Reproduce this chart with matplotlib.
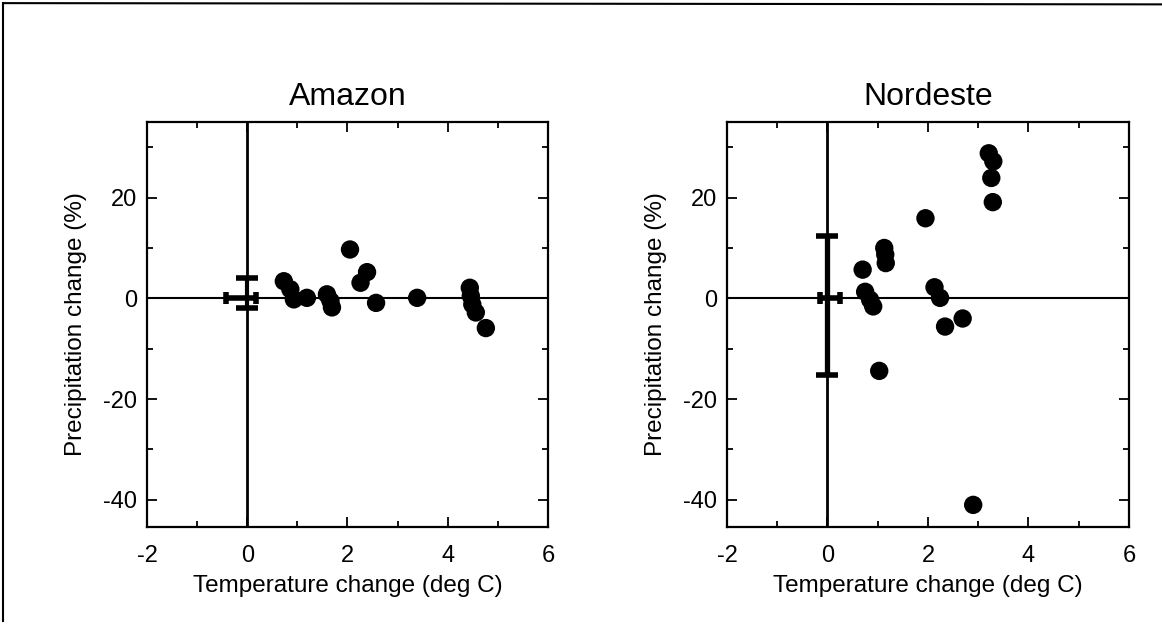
import matplotlib
matplotlib.use("Agg")
import matplotlib.pyplot as plt
from matplotlib.ticker import MultipleLocator
from matplotlib.lines import Line2D

plt.rcParams["font.family"] = ["Liberation Sans", "DejaVu Sans"]
plt.rcParams["axes.unicode_minus"] = False

# values
amazon_dt = [0.73, 0.86, 0.93, 1.19, 1.59, 1.66, 1.69, 2.05, 2.26, 2.39,
             2.57, 3.39, 4.44, 4.46, 4.49, 4.56, 4.76]
amazon_dp = [3.4, 1.8, -0.2, 0.1, 0.8, -0.5, -1.8, 9.7, 3.1, 5.2,
             -0.9, 0.1, 2.1, 0.5, -1.2, -2.8, -5.9]
amazon_xerr = [[0.42], [0.17]]
amazon_yerr = [[2.0], [4.0]]

nordeste_dt = [0.70, 0.75, 0.85, 0.91, 1.03, 1.13, 1.15, 1.16, 1.95, 2.13,
               2.24, 2.34, 2.69, 2.90, 3.21, 3.30, 3.26, 3.29]
nordeste_dp = [5.7, 1.3, -0.3, -1.6, -14.4, 10.0, 8.7, 7.0, 15.9, 2.2,
               0.1, -5.6, -4.0, -41.0, 28.8, 27.2, 23.9, 19.1]
nordeste_xerr = [[0.15], [0.25]]
nordeste_yerr = [[15.3], [12.3]]

titles = ["Amazon", "Nordeste"]
xticks = [-2, 0, 2, 4, 6]
yticks = [-40, -20, 0, 20]

fig = plt.figure(figsize=(11.62, 6.24), dpi=100)
ax1 = fig.add_axes([0.1265, 0.1554, 0.3451, 0.649])
ax2 = fig.add_axes([0.6256, 0.1554, 0.346, 0.649])

panels = [
    (ax1, amazon_dt, amazon_dp, amazon_xerr, amazon_yerr, 3.0),
    (ax2, nordeste_dt, nordeste_dp, nordeste_xerr, nordeste_yerr, 3.8),
]

for i, (ax, xs, ys, xe, ye, elw) in enumerate(panels):
    ax.axvline(0, color="black", lw=2, zorder=1)
    ax.axhline(0, color="black", lw=1.5, zorder=1)
    # spread of the control run
    ax.errorbar([0], [0], yerr=ye, fmt="none", ecolor="black",
                elinewidth=elw, capsize=8, capthick=4, zorder=2)
    ax.errorbar([0], [0], xerr=xe, fmt="none", ecolor="black",
                elinewidth=4, capsize=4, capthick=4, zorder=2)
    ax.scatter(xs, ys, s=175, color="black", edgecolors="none", zorder=3)

    ax.set_xlim(-2, 6)
    ax.set_ylim(-45.4, 35)
    ax.set_xticks(xticks)
    ax.set_yticks(yticks)
    ax.xaxis.set_minor_locator(MultipleLocator(1))
    ax.yaxis.set_minor_locator(MultipleLocator(10))
    ax.tick_params(which="both", direction="in", top=True, right=True,
                   width=1.3, labelsize=17)
    ax.tick_params(which="major", length=7)
    ax.tick_params(which="minor", length=4)
    ax.tick_params(axis="x", which="major", pad=13)
    ax.tick_params(axis="y", which="major", pad=7)
    for sp in ax.spines.values():
        sp.set_linewidth(1.6)

    ax.set_title(titles[i], fontsize=23, pad=12)
    ax.set_xlabel("Temperature change (deg C)", fontsize=17.5, labelpad=6)
    ax.set_ylabel("Precipitation change (%)", fontsize=17.5, labelpad=12)

# border of the scanned page
fig.add_artist(Line2D([0.003, 0.003], [0.005, 0.995], color="black", lw=1.5,
                      transform=fig.transFigure))
fig.add_artist(Line2D([0.003, 1.0], [0.995, 0.993], color="black", lw=1.5,
                      transform=fig.transFigure))

fig.savefig("out.png", dpi=100)
